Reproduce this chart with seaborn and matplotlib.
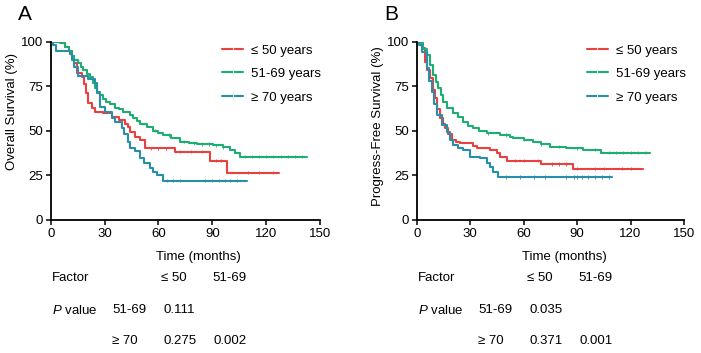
import numpy as np
import pandas as pd
import matplotlib.pyplot as plt
import seaborn as sns

# ---- data ----
groups = ['≤ 50 years', '51-69 years', '≥ 70 years']
colors = ['#E8413F', '#1DAE72', '#2A8EAA']

# Panel A: overall survival (step points: time in months, survival in %)
os_t_le50 = [0, 6, 8, 10, 12, 13, 14.5, 17.2, 18.5, 19.5, 21, 23, 24.7, 29, 34, 38, 41.4, 43, 44.2, 46.9, 49.7, 52.5, 69.2, 88.7, 98.3, 127.3]
os_s_le50 = [100, 99, 97, 95, 92, 88, 82.4, 80, 76, 71.5, 65.6, 63, 60.7, 60, 57.9, 56, 54, 52, 49.5, 46.7, 44.9, 40.2, 38.3, 33.3, 26.5, 26.5]
os_t_5169 = [0, 5, 8, 10, 12, 13, 15, 17, 18, 20, 22, 23.5, 24.7, 26, 27.5, 29, 31, 33, 36, 38, 40, 44.2, 46, 48, 50, 53.5, 57, 60, 62.7, 67, 72, 77, 81.3, 90.5, 96, 99.8, 102.6, 105.4, 142.9]
os_s_5169 = [100, 99, 97, 95, 92, 90, 88, 86, 84, 82, 80, 77, 74, 72, 70, 68, 66, 65, 63, 62, 60.5, 58.9, 57, 55.5, 54, 52.3, 50, 49, 47.7, 46, 44, 43, 42.6, 42, 40.8, 39.3, 37.8, 35.5, 35.5]
os_t_ge70 = [0, 1.5, 3, 10.7, 12, 13, 15.4, 20.8, 24.7, 25.6, 27.5, 30, 34, 36, 39.5, 41, 43, 44.2, 47, 49.7, 52, 55.3, 57, 59, 62.7, 109.5]
os_s_ge70 = [100, 98, 95, 93, 90, 86, 81, 79, 77, 71, 63.5, 60.7, 57, 55, 51.4, 48, 44, 40.2, 38.5, 34.6, 32, 29, 27, 25.2, 22, 22]

# Panel B: progress-free survival
pfs_t_le50 = [0, 1.5, 2.8, 4.6, 6, 7.5, 9, 10.3, 11.5, 13, 14.5, 15.9, 17.5, 19.6, 22, 24.3, 29.9, 31.5, 33.6, 41, 44.8, 46.7, 50.8, 70, 87.7, 127]
pfs_s_le50 = [100, 99, 96.5, 88.8, 84, 79.5, 73, 68.2, 62, 57, 54, 51.4, 48, 44.9, 44, 43, 43, 41.5, 40.2, 39.3, 37.4, 35.5, 33.3, 31.4, 28.8, 28.8]
pfs_t_5169 = [0, 1.8, 3.5, 5.6, 7.5, 9.3, 10.7, 12.1, 13.5, 14.9, 17, 20.5, 23, 26.1, 29, 31.7, 35, 39.2, 46.7, 52.3, 54.1, 60, 65.3, 70, 74.7, 84, 93.3, 103.6, 130.7]
pfs_s_5169 = [100, 99, 96, 92.5, 87, 81.3, 77.5, 73.9, 70, 66.4, 63, 59.8, 57.5, 55.2, 53, 51.4, 50, 48.6, 47.7, 46.7, 45.8, 45, 43.9, 42.5, 41.1, 40.2, 39.3, 37.8, 37.8]
pfs_t_ge70 = [0, 1.5, 3, 5.6, 7, 8.4, 9.8, 11.2, 14, 16.8, 18.5, 20.5, 23, 26.1, 29.9, 35.5, 39.2, 41, 42.9, 45.7, 109.8]
pfs_s_ge70 = [100, 98, 94, 85, 78, 72, 65, 58.9, 53.3, 49.5, 45, 42, 40.5, 39.3, 35.5, 34.6, 31.8, 29.5, 27.1, 24.1, 24.1]

# censored observations (months)
os_c_le50 = [56, 60, 64, 72, 78, 84, 92, 95, 110, 116, 124]
os_c_5169 = [58, 66, 74, 80, 84, 88, 92, 96, 108, 112, 116, 120, 124, 128, 132, 136, 140]
os_c_ge70 = [65, 68, 72, 86, 90, 94, 97, 100, 104]
pfs_c_le50 = [55, 60, 68, 76, 80, 84, 90, 100, 105, 115, 120]
pfs_c_5169 = [40, 50, 60, 70, 80, 90, 100, 108, 112, 116, 120, 124, 128]
pfs_c_ge70 = [50, 58, 66, 72, 84, 88, 90, 93, 96, 100, 104, 108]

factor_cols = ['≤ 50', '51-69']
row_labels = ['51-69', '≥ 70']
p_os = [['0.111', ''], ['0.275', '0.002']]
p_pfs = [['0.035', ''], ['0.371', '0.001']]


def build(ts, ss, cs):
    lines, cens = [], []
    for g, t, s, c in zip(groups, ts, ss, cs):
        lines.append(pd.DataFrame({'time': t, 'surv': s, 'group': g}))
        t_arr, s_arr = np.array(t), np.array(s)
        idx = np.searchsorted(t_arr, c, side='right') - 1
        cens.append(pd.DataFrame({'time': c, 'surv': s_arr[idx], 'group': g}))
    return pd.concat(lines), pd.concat(cens)


sns.set_theme(style='ticks')
plt.rcParams['font.family'] = ['Liberation Sans', 'DejaVu Sans']
plt.rcParams['text.color'] = 'black'
plt.rcParams['xtick.color'] = 'black'
plt.rcParams['ytick.color'] = 'black'
plt.rcParams['mathtext.fontset'] = 'custom'
plt.rcParams['mathtext.rm'] = 'Liberation Sans'
plt.rcParams['mathtext.it'] = 'Liberation Sans:italic'

W, H = 701, 353
fig = plt.figure(figsize=(W / 100, H / 100), dpi=100)
FS = 9.5

panels = [
    dict(letter='A', ylab='Overall Survival (%)', left=50.7, right=320,
         data=build([os_t_le50, os_t_5169, os_t_ge70], [os_s_le50, os_s_5169, os_s_ge70],
                    [os_c_le50, os_c_5169, os_c_ge70]),
         pvals=p_os, dx=0, ylab_x=12, ylab_y=111),
    dict(letter='B', ylab='Progress-Free Survival (%)', left=416.7, right=684,
         data=build([pfs_t_le50, pfs_t_5169, pfs_t_ge70], [pfs_s_le50, pfs_s_5169, pfs_s_ge70],
                    [pfs_c_le50, pfs_c_5169, pfs_c_ge70]),
         pvals=p_pfs, dx=366, ylab_x=378, ylab_y=126),
]

top, bottom = 41.7, 220
for p in panels:
    ax = fig.add_axes([p['left'] / W, 1 - bottom / H, (p['right'] - p['left']) / W, (bottom - top) / H])
    lines, cens = p['data']
    sns.lineplot(data=lines, x='time', y='surv', hue='group', hue_order=groups, palette=colors,
                 estimator=None, drawstyle='steps-post', linewidth=1.5, ax=ax)
    sns.scatterplot(data=cens, x='time', y='surv', hue='group', hue_order=groups, palette=colors,
                    marker='|', s=5, linewidth=0.6, legend=False, ax=ax)
    ax.set_xlim(0, 150)
    ax.set_ylim(0, 100)
    ax.set_xticks([0, 30, 60, 90, 120, 150])
    ax.set_yticks([0, 25, 50, 75, 100])
    ax.set_xlabel('')
    ax.set_ylabel('')
    ax.tick_params(labelsize=FS, length=3.5, width=1.1, pad=2)
    for sp in ['left', 'bottom']:
        ax.spines[sp].set_linewidth(1.3)
        ax.spines[sp].set_color('black')
    sns.despine(ax=ax)
    ax.spines['left'].set_zorder(5)

    handles, labels = ax.get_legend_handles_labels()
    for h in handles:
        h.set_marker('|')
        h.set_markersize(3)
        h.set_markeredgewidth(0.6)
    ax.legend(handles, labels, loc='upper left', bbox_to_anchor=(0.636, 0.985), frameon=False,
              fontsize=FS, handlelength=1.6, handletextpad=0.6, labelspacing=0.85,
              borderpad=0, borderaxespad=0)

    dx = p['dx']
    fig.text((25 + dx) / W, 1 - 15 / H, p['letter'], fontsize=15, ha='center', va='center')
    fig.text(p['ylab_x'] / W, 1 - p['ylab_y'] / H, p['ylab'], rotation=90,
             fontsize=FS, ha='center', va='center')
    fig.text((156 + dx) / W, 1 - 257 / H, 'Time (months)', fontsize=FS, ha='left', va='center')

    # p-value table
    fig.text((52 + dx) / W, 1 - 278 / H, 'Factor', fontsize=FS, va='center')
    for j, c in enumerate(factor_cols):
        fig.text(([161, 212][j] + dx) / W, 1 - 278 / H, c, fontsize=FS, va='center')
    fig.text((52 + dx) / W, 1 - 310 / H, r'$\it{P}$ value', fontsize=FS, va='center')
    for i, r in enumerate(row_labels):
        yy = 1 - [310, 341][i] / H
        fig.text((112 + dx) / W, yy, r, fontsize=FS, va='center')
        for j, v in enumerate(p['pvals'][i]):
            fig.text(([163, 213][j] + dx) / W, yy, v, fontsize=FS, va='center')

fig.savefig('out.png', dpi=100)
